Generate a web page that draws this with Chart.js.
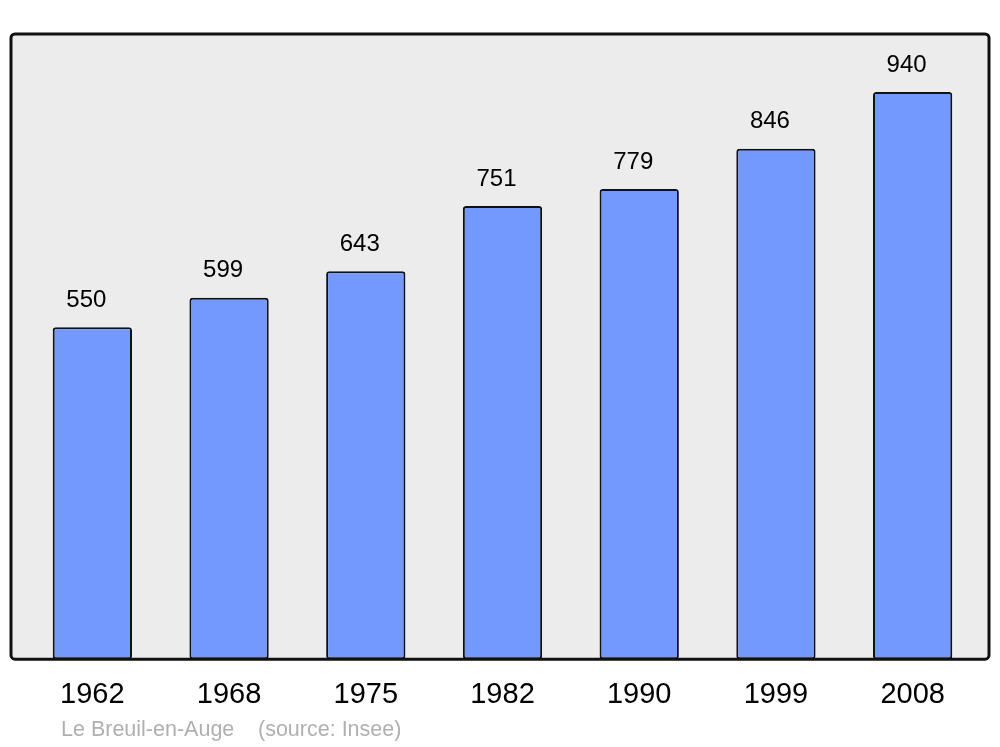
<!DOCTYPE html>
<html>
<head>
<meta charset="utf-8">
<script src="https://cdn.jsdelivr.net/npm/chart.js@4"></script>
<style>
  html, body { margin: 0; padding: 0; background: #ffffff; }
  #wrap { width: 1000px; height: 747px; }
</style>
</head>
<body>
<div id="wrap"><canvas id="popChart" width="1000" height="747"></canvas></div>
<script>
// données
const years = ['1962', '1968', '1975', '1982', '1990', '1999', '2008'];
const population = [550, 599, 643, 751, 779, 846, 940];
const placeName = 'Le Breuil-en-Auge';
const sourceNote = '(source: Insee)';

const FONT = '"Liberation Sans", Arial, sans-serif';

// fond gris arrondi derrière les barres
const boxPlugin = {
    id: 'box',
    beforeDatasetsDraw(chart) {
        const { ctx, chartArea } = chart;
        const x0 = chartArea.left - 13, x1 = chartArea.right + 8;
        const y0 = chartArea.top, y1 = chartArea.bottom;
        ctx.save();
        ctx.beginPath();
        ctx.roundRect(x0, y0, x1 - x0, y1 - y0, 4);
        ctx.fillStyle = '#ececec';
        ctx.fill();
        ctx.restore();
    },
    afterDatasetsDraw(chart) {
        const { ctx, chartArea } = chart;
        const x0 = chartArea.left - 13, x1 = chartArea.right + 8;
        const y0 = chartArea.top, y1 = chartArea.bottom;
        ctx.save();
        ctx.beginPath();
        ctx.roundRect(x0, y0, x1 - x0, y1 - y0, 4);
        ctx.lineWidth = 3;
        ctx.strokeStyle = '#111111';
        ctx.stroke();

        // valeurs au-dessus des barres
        const meta = chart.getDatasetMeta(0);
        ctx.fillStyle = '#000000';
        ctx.font = '24px ' + FONT;
        ctx.textAlign = 'center';
        ctx.textBaseline = 'middle';
        meta.data.forEach((bar, i) => {
            ctx.fillText(String(population[i]), bar.x - 6, bar.y - 27);
        });

        // source
        ctx.fillStyle = '#b0b0b0';
        ctx.font = '21.5px ' + FONT;
        ctx.textAlign = 'left';
        ctx.fillText(placeName, 61, 730);
        ctx.fillText(sourceNote, 258, 730);
        ctx.restore();
    }
};

const ctx = document.getElementById('popChart').getContext('2d');
const chart = new Chart(ctx, {
    type: 'bar',
    data: {
        labels: years,
        datasets: [{
            data: population,
            backgroundColor: '#7399ff',
            borderColor: '#111111',
            borderWidth: 2,
            borderRadius: 3,
            borderSkipped: false,
            barPercentage: 0.58,
            categoryPercentage: 1
        }]
    },
    options: {
        responsive: false,
        animation: false,
        layout: { padding: { left: 24, right: 19, top: 34, bottom: 17 } },
        plugins: {
            legend: { display: false },
            tooltip: { enabled: false }
        },
        scales: {
            x: {
                grid: { display: false, drawTicks: false },
                border: { display: false },
                ticks: {
                    color: '#000000',
                    font: { family: FONT, size: 29 },
                    padding: 18,
                    maxRotation: 0
                }
            },
            y: {
                display: false,
                min: 0,
                max: 1036
            }
        }
    },
    plugins: [boxPlugin]
});
</script>
</body>
</html>
